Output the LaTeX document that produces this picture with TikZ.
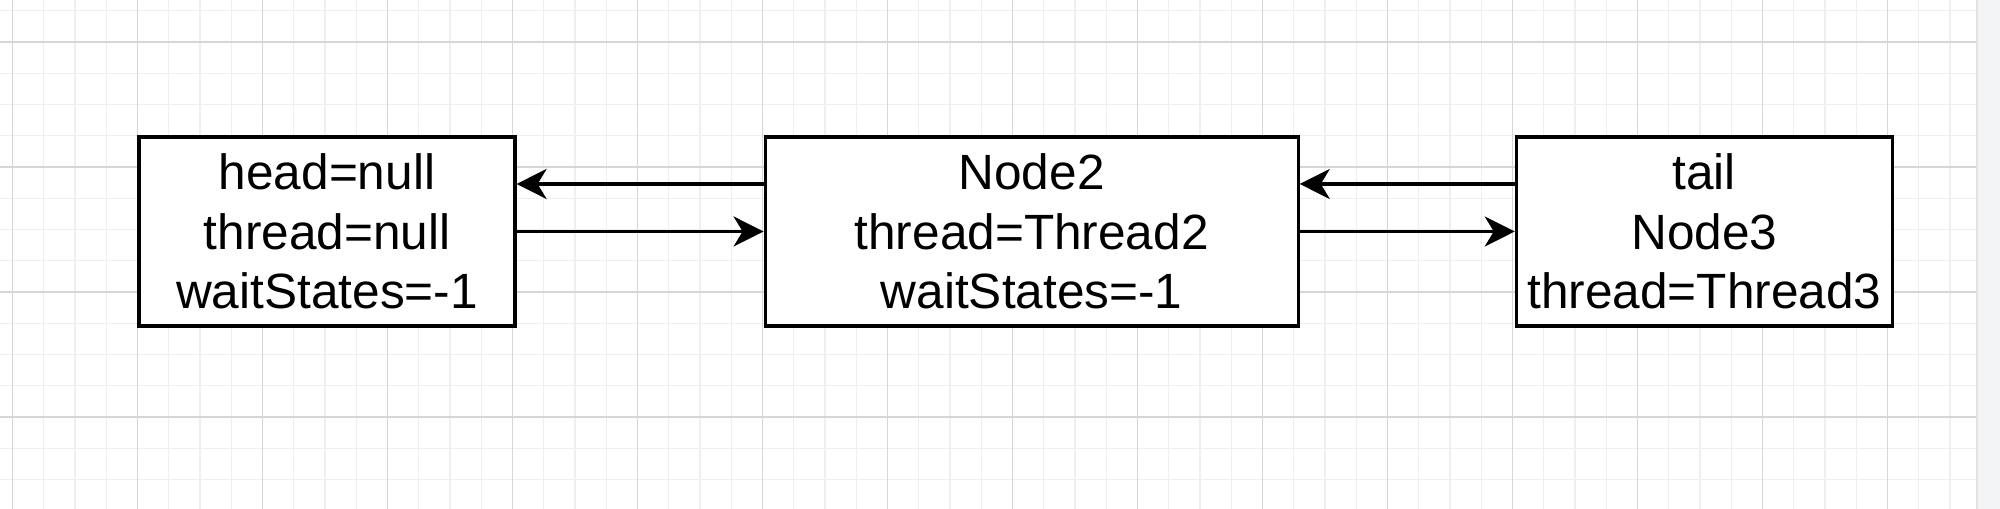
\documentclass[tikz,border=0pt]{standalone}
\usepackage{fontspec}
\setmainfont{Liberation Sans}
\usetikzlibrary{positioning, arrows.meta}
\definecolor{primaryColor}{RGB}{0, 0, 0}
\definecolor{gridMinor}{RGB}{239, 239, 239}
\definecolor{gridMajor}{RGB}{214, 214, 214}
\definecolor{panelFill}{RGB}{243, 244, 246}
\definecolor{panelEdge}{RGB}{226, 226, 226}
\tikzset{
    list_node/.style={
        draw=primaryColor,
        fill=white,
        line width=0.9pt,
        minimum width=3.76cm,
        minimum height=1.89cm,
        inner sep=0pt,
        align=center,
        font=\fontsize{14.1}{16.9}\selectfont
    },
    list_edge/.style={
        -{Stealth[length=0.3cm, width=0.3cm, inset=0.09cm]},
        line width=0.9pt,
        draw=primaryColor
    },
    grid_minor/.style={
        draw=gridMinor,
        line width=0.4pt
    },
    grid_major/.style={
        draw=gridMajor,
        line width=0.4pt
    }
}

\begin{document}
\begin{tikzpicture}
    \useasboundingbox (0,0) rectangle (20,5.09);
    \fill[white] (0,0) rectangle (20,5.09);
    \begin{scope}[shift={(0.125,0.92)}]
        \draw[grid_minor, step=0.3125] (-0.125,-0.92) grid (19.635,4.17);
        \draw[grid_major, step=1.25] (-0.125,-0.92) grid (19.635,4.17);
    \end{scope}
    \fill[panelFill] (19.77,0) rectangle (20,5.09);
    \draw[panelEdge] (19.77,0) -- (19.77,5.09);

    \node[list_node] (head) at (3.27,2.775) {head=null\\thread=null\\waitStates=-1};
    \node[list_node, minimum width=5.33cm, right=2.47cm of head] (node2) {Node2\\thread=Thread2\\waitStates=-1};
    \node[list_node, right=2.15cm of node2] (tail) {tail\\Node3\\thread=Thread3};

    \draw[list_edge] ([yshift=0.475cm]node2.west) -- ([yshift=0.475cm]head.east);
    \draw[list_edge] (head.east) -- (node2.west);
    \draw[list_edge] ([yshift=0.475cm]tail.west) -- ([yshift=0.475cm]node2.east);
    \draw[list_edge] (node2.east) -- (tail.west);
\end{tikzpicture}
\end{document}
